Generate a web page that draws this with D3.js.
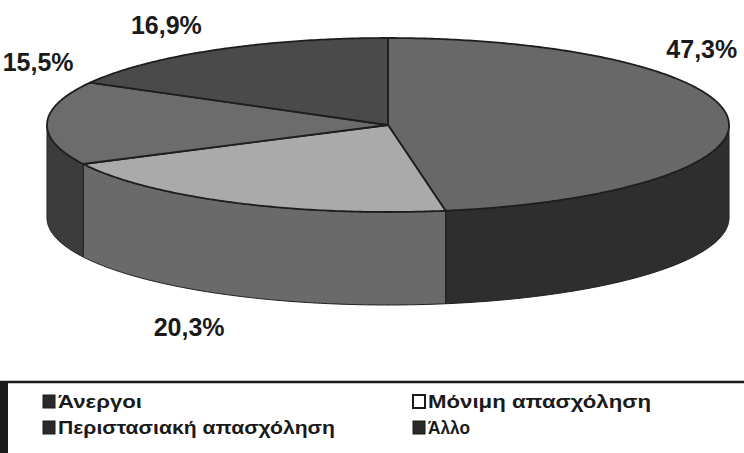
<!DOCTYPE html>
<html>
<head>
<meta charset="utf-8">
<script src="https://cdn.jsdelivr.net/npm/d3@7"></script>
<style>
  html, body { margin: 0; padding: 0; background: #ffffff; }
  svg { display: block; }
</style>
</head>
<body>
<svg id="chart" width="744" height="453"></svg>
<script>
// Employment status shares
const categories = ["Άνεργοι", "Μόνιμη απασχόληση", "Περιστασιακή απασχόληση", "Άλλο"];
const values = [47.3, 20.3, 15.5, 16.9];
const valueLabels = ["47,3%", "20,3%", "15,5%", "16,9%"];

// Shades for top faces, rim walls and legend swatches
const topColors = ["#686868", "#aaaaaa", "#6c6c6c", "#4a4a4a"];
const sideColors = ["#2e2e2e", "#6a6a6a", "#3c3c3c", "#2a2a2a"];
const swatchColors = ["#2a2a2a", "#ffffff", "#2a2a2a", "#2a2a2a"];

const svg = d3.select("#chart");

// Tilted disc geometry
const cx = 388, cy = 125, rx = 341, ry = 87, depth = 93;
const ex = a => cx + rx * Math.sin(a);
const ey = a => cy - ry * Math.cos(a);

const arcs = d3.pie().sort(null).startAngle(0).endAngle(2 * Math.PI).value(d => d)(values);

function rimPoints(a0, a1) {
  const n = Math.max(2, Math.ceil((a1 - a0) / 0.01));
  return d3.range(n + 1).map(i => {
    const a = a0 + (a1 - a0) * i / n;
    return [ex(a), ey(a)];
  });
}

// Front walls (visible between 90° and 270°)
const g = svg.append("g");
arcs.forEach((d, i) => {
  const s = Math.max(d.startAngle, Math.PI / 2);
  const e = Math.min(d.endAngle, 3 * Math.PI / 2);
  if (e <= s) return;
  const top = rimPoints(s, e);
  const bottom = top.slice().reverse().map(p => [p[0], p[1] + depth]);
  const p = d3.path();
  top.forEach((pt, k) => k ? p.lineTo(pt[0], pt[1]) : p.moveTo(pt[0], pt[1]));
  bottom.forEach(pt => p.lineTo(pt[0], pt[1]));
  p.closePath();
  g.append("path")
    .attr("d", p.toString())
    .attr("fill", sideColors[i])
    .attr("stroke", "#1e1e1e")
    .attr("stroke-width", 1)
    .attr("stroke-linejoin", "round");
});

// Top faces
arcs.forEach((d, i) => {
  const p = d3.path();
  p.moveTo(cx, cy);
  rimPoints(d.startAngle, d.endAngle).forEach(pt => p.lineTo(pt[0], pt[1]));
  p.closePath();
  g.append("path")
    .attr("d", p.toString())
    .attr("fill", topColors[i])
    .attr("stroke", "#1e1e1e")
    .attr("stroke-width", 1.8)
    .attr("stroke-linejoin", "round");
});

// Percentage labels placed off each slice's mid-angle
const labelReach = [
  { dx: -26, dy: -60 },
  { dx: -45, dy: 133 },
  { dx: -9, dy: -52 },
  { dx: -49, dy: -16 }
];
arcs.forEach((d, i) => {
  const mid = (d.startAngle + d.endAngle) / 2;
  svg.append("text")
    .attr("x", ex(mid) + labelReach[i].dx)
    .attr("y", ey(mid) + labelReach[i].dy)
    .attr("text-anchor", "middle")
    .attr("font-family", "'Liberation Sans', Arial, sans-serif")
    .attr("font-weight", "bold")
    .attr("font-size", 25)
    .attr("fill", "#1a1a1a")
    .text(valueLabels[i]);
});

// Legend frame
svg.append("line")
  .attr("x1", 0).attr("x2", 744).attr("y1", 382).attr("y2", 382)
  .attr("stroke", "#1a1a1a").attr("stroke-width", 2.5);
svg.append("rect")
  .attr("x", 0).attr("y", 381).attr("width", 8).attr("height", 72)
  .attr("fill", "#1a1a1a");

// Legend entries, two columns
const legendCols = [42, 412];
const legendRows = [408, 434];
const legendWidths = [84, 223, 277, 42];
categories.forEach((c, i) => {
  const x = legendCols[i % 2];
  const y = legendRows[i < 2 ? 0 : 1];
  svg.append("rect")
    .attr("x", x + 1).attr("y", y - 13)
    .attr("width", 12).attr("height", 13)
    .attr("fill", swatchColors[i])
    .attr("stroke", "#1a1a1a")
    .attr("stroke-width", swatchColors[i] === "#ffffff" ? 2 : 1);
  svg.append("text")
    .attr("x", x + 16).attr("y", y)
    .attr("font-family", "'Liberation Sans', Arial, sans-serif")
    .attr("font-weight", "bold")
    .attr("font-size", 18)
    .attr("fill", "#1a1a1a")
    .attr("textLength", legendWidths[i])
    .attr("lengthAdjust", "spacingAndGlyphs")
    .text(c);
});
</script>
</body>
</html>
